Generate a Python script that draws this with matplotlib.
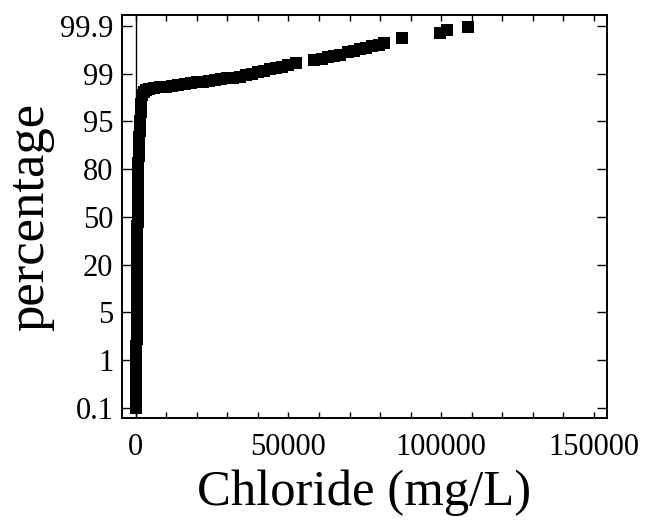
import numpy as np
import matplotlib
matplotlib.use("Agg")
import matplotlib.pyplot as plt
from matplotlib.ticker import FixedLocator, MultipleLocator, NullFormatter, FuncFormatter

# Probability axis: labelled percentages placed at equal steps
prob_ticks = [0.1, 1, 5, 20, 50, 80, 95, 99, 99.9]
prob_labels = ["0.1", "1", "5", "20", "50", "80", "95", "99", "99.9"]

# Cumulative chloride distribution (mg/L vs. cumulative percent)
chloride_low = [100, 130, 160, 180, 200, 215, 230, 245, 260, 270, 280, 290,
                300, 320, 340, 360, 380, 400, 420, 440, 460, 480, 500, 520,
                540, 560, 580, 600, 630, 660, 690, 720, 750, 780, 800, 830,
                860, 900, 950, 1000, 1080, 1160, 1250, 1350, 1450, 1600,
                1800, 2000]
percent_low = [0.1, 0.25, 0.4, 0.55, 0.7, 0.85, 1.0, 1.6, 2.2, 2.8, 3.4, 4.0,
               4.5, 5.0, 7.0, 9.0, 11.0, 13.0, 15.0, 17.0, 20.0, 24.0, 28.0,
               32.0, 36.0, 40.0, 44.0, 47.0, 50.0, 54.0, 58.0, 62.0, 66.0,
               70.0, 74.0, 77.0, 80.0, 82.0, 84.0, 86.0, 88.0, 90.0, 92.0,
               93.5, 95.0, 95.8, 96.5, 97.2]

chloride_high = [2600, 3500, 4500, 6000, 8000, 10000, 12000, 14000, 16000,
                 18000, 20000, 22000, 24000, 26000, 28000, 30000, 32000,
                 34000, 36000, 38000, 40000, 42000, 44000, 46000, 48000,
                 50000, 52500, 58500, 61000, 63000, 65000, 67000, 69500,
                 71500, 73500, 75500, 77500, 79500, 81400,
                 87200, 99600, 101900, 108800]
percent_high = [97.45, 97.6, 97.7, 97.8, 97.88, 97.92, 98.0, 98.08, 98.12,
                98.2, 98.28, 98.32, 98.4, 98.48, 98.56, 98.6, 98.68, 98.76,
                98.88, 99.0, 99.03, 99.05, 99.08, 99.11, 99.135, 99.16, 99.2,
                99.25, 99.28, 99.31, 99.33, 99.36, 99.4, 99.42, 99.46, 99.49,
                99.52, 99.55, 99.585, 99.68, 99.77, 99.83, 99.89]

# Piecewise-linear mapping between percent and equally spaced tick slots,
# extended linearly past both ends so limits can sit slightly outside.
_pct = np.array(prob_ticks, dtype=float)
_pos = np.arange(len(prob_ticks), dtype=float)
_pct_ext = np.concatenate(([_pct[0] - (_pct[1] - _pct[0])], _pct,
                           [_pct[-1] + (_pct[-1] - _pct[-2])]))
_pos_ext = np.concatenate(([-1.0], _pos, [_pos[-1] + 1.0]))


def pct_to_pos(p):
    return np.interp(p, _pct_ext, _pos_ext)


def pos_to_pct(s):
    return np.interp(s, _pos_ext, _pct_ext)


plt.rcParams["font.family"] = ["Liberation Serif", "DejaVu Serif"]

fig = plt.figure(figsize=(6.45, 5.25), dpi=100)
ax = fig.add_axes([0.1887, 0.2038, 0.9406 - 0.1887, 0.9714 - 0.2038])

ax.set_yscale("function", functions=(pct_to_pos, pos_to_pct))

x = np.array(chloride_low + chloride_high)
y = np.array(percent_low + percent_high)
ax.plot(x, y, linestyle="none", marker="s", markersize=8.3,
        color="black", markeredgewidth=0)

ax.axvline(0, color="black", linewidth=1.0, zorder=0)

ax.set_xlim(-4580, 154200)
ax.set_ylim(pos_to_pct(-0.216), pos_to_pct(8.23))

ax.yaxis.set_major_locator(FixedLocator(prob_ticks))
ax.set_yticklabels(prob_labels)
ax.yaxis.set_minor_locator(FixedLocator([]))
ax.xaxis.set_major_locator(MultipleLocator(50000))
ax.xaxis.set_minor_locator(MultipleLocator(10000))
ax.xaxis.set_minor_formatter(NullFormatter())
ax.xaxis.set_major_formatter(FuncFormatter(lambda v, _: f"{int(v)}"))

ax.tick_params(axis="y", which="major", direction="in", length=7, width=1.0,
               left=True, right=True, labelsize=22, pad=6)
ax.tick_params(axis="x", which="both", direction="in", length=4.5, width=1.0,
               bottom=True, top=True, labelsize=22, pad=11)

for s in ax.spines.values():
    s.set_linewidth(1.4)

ax.set_xlabel("Chloride (mg/L)", fontsize=36.5, labelpad=5)
ax.set_ylabel("percentage", fontsize=38, labelpad=4)

fig.savefig("out.png", dpi=100)
